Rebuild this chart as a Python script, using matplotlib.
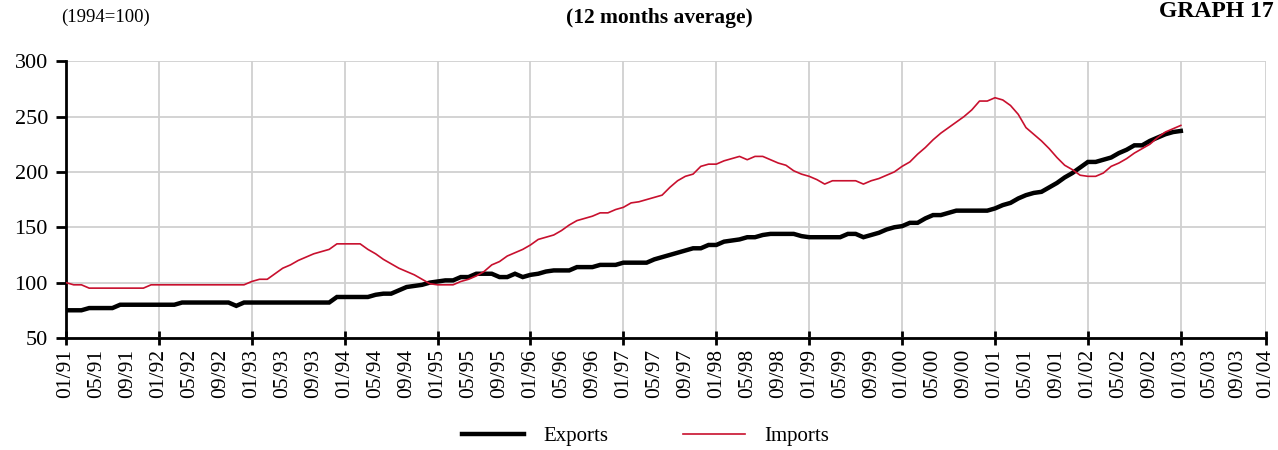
import numpy as np
import matplotlib
matplotlib.use("Agg")
import matplotlib.pyplot as plt

plt.rcParams['font.family'] = ['Liberation Serif', 'DejaVu Serif']

# -----------------------------
# Data: 12 months average, 1994=100, monthly from 01/91 to 01/03
# -----------------------------
exports = [
    75, 75, 75, 77, 77, 77, 77, 80, 80, 80, 80, 80,          # 1991
    80, 80, 80, 82, 82, 82, 82, 82, 82, 82, 79, 82,          # 1992
    82, 82, 82, 82, 82, 82, 82, 82, 82, 82, 82, 87,          # 1993
    87, 87, 87, 87, 89, 90, 90, 93, 96, 97, 98, 100,         # 1994
    101, 102, 102, 105, 105, 108, 108, 108, 105, 105, 108, 105,  # 1995
    107, 108, 110, 111, 111, 111, 114, 114, 114, 116, 116, 116,  # 1996
    118, 118, 118, 118, 121, 123, 125, 127, 129, 131, 131, 134,  # 1997
    134, 137, 138, 139, 141, 141, 143, 144, 144, 144, 144, 142,  # 1998
    141, 141, 141, 141, 141, 144, 144, 141, 143, 145, 148, 150,  # 1999
    151, 154, 154, 158, 161, 161, 163, 165, 165, 165, 165, 165,  # 2000
    167, 170, 172, 176, 179, 181, 182, 186, 190, 195, 199, 204,  # 2001
    209, 209, 211, 213, 217, 220, 224, 224, 228, 231, 234, 236,  # 2002
    237,                                                      # 2003
]

imports = [
    100, 98, 98, 95, 95, 95, 95, 95, 95, 95, 95, 98,         # 1991
    98, 98, 98, 98, 98, 98, 98, 98, 98, 98, 98, 98,          # 1992
    101, 103, 103, 108, 113, 116, 120, 123, 126, 128, 130, 135,  # 1993
    135, 135, 135, 130, 126, 121, 117, 113, 110, 107, 103, 99,   # 1994
    98, 98, 98, 101, 103, 106, 110, 116, 119, 124, 127, 130,     # 1995
    134, 139, 141, 143, 147, 152, 156, 158, 160, 163, 163, 166,  # 1996
    168, 172, 173, 175, 177, 179, 186, 192, 196, 198, 205, 207,  # 1997
    207, 210, 212, 214, 211, 214, 214, 211, 208, 206, 201, 198,  # 1998
    196, 193, 189, 192, 192, 192, 192, 189, 192, 194, 197, 200,  # 1999
    205, 209, 216, 222, 229, 235, 240, 245, 250, 256, 264, 264,  # 2000
    267, 265, 260, 252, 240, 234, 228, 221, 213, 206, 202, 197,  # 2001
    196, 196, 199, 205, 208, 212, 217, 221, 225, 231, 236, 239,  # 2002
    242,                                                      # 2003
]

tick_labels = [
    "01/91", "05/91", "09/91", "01/92", "05/92", "09/92", "01/93", "05/93", "09/93",
    "01/94", "05/94", "09/94", "01/95", "05/95", "09/95", "01/96", "05/96", "09/96",
    "01/97", "05/97", "09/97", "01/98", "05/98", "09/98", "01/99", "05/99", "09/99",
    "01/00", "05/00", "09/00", "01/01", "05/01", "09/01", "01/02", "05/02", "09/02",
    "01/03", "05/03", "09/03", "01/04",
]

# -----------------------------
# Positions (category axis, last year is squeezed into 11 slots)
# -----------------------------
x = np.arange(len(exports))
tick_pos = list(np.arange(0, 145, 4)) + [144 + 11 / 3, 144 + 22 / 3, 155]
year_pos = tick_pos[::3]
minor_pos = [p for i, p in enumerate(tick_pos) if i % 3 != 0]

# -----------------------------
# Plot
# -----------------------------
fig = plt.figure(figsize=(12.78, 4.5), dpi=100)
ax = fig.add_axes([0.0516, 0.249, 0.939, 0.615])

ax.plot(x, exports, color="black", lw=3.2, solid_joinstyle="miter", label="Exports", zorder=3)
ax.plot(x, imports, color="#C8102E", lw=1.2, label="Imports", zorder=4)

ax.set_xlim(0, 155)
ax.set_ylim(50, 300)
ax.set_yticks(range(50, 301, 50))

ax.set_xticks(year_pos)
ax.set_xticklabels(tick_labels[::3], rotation=90)
ax.set_xticks(minor_pos, minor=True)
ax.set_xticklabels([l for i, l in enumerate(tick_labels) if i % 3 != 0], minor=True, rotation=90)

ax.grid(True, which="major", color="#D0D0D0", lw=1.3)
ax.set_axisbelow(True)

for s in ["top", "right"]:
    ax.spines[s].set_visible(False)
for s in ["left", "bottom"]:
    ax.spines[s].set_linewidth(2)

ax.tick_params(axis="x", which="major", direction="inout", length=10, width=2, labelsize=15.5, pad=3)
ax.tick_params(axis="x", which="minor", length=0, labelsize=15.5, pad=8)
ax.tick_params(axis="y", direction="out", length=7, width=2, labelsize=16, pad=6)

fig.text(0.048, 0.962, "(1994=100)", fontsize=13.5, ha="left", va="center")
fig.text(0.516, 0.96, "(12 months average)", fontsize=15.5, fontweight="bold", ha="center", va="center")
fig.text(0.997, 0.997, "GRAPH 17", fontsize=17, fontweight="bold", ha="right", va="top")

fig.legend(loc="center", bbox_to_anchor=(0.505, 0.03), ncol=2, frameon=False,
           fontsize=15, handlelength=3.0, columnspacing=3.6, handletextpad=0.9)

fig.savefig("out.png", dpi=100)
